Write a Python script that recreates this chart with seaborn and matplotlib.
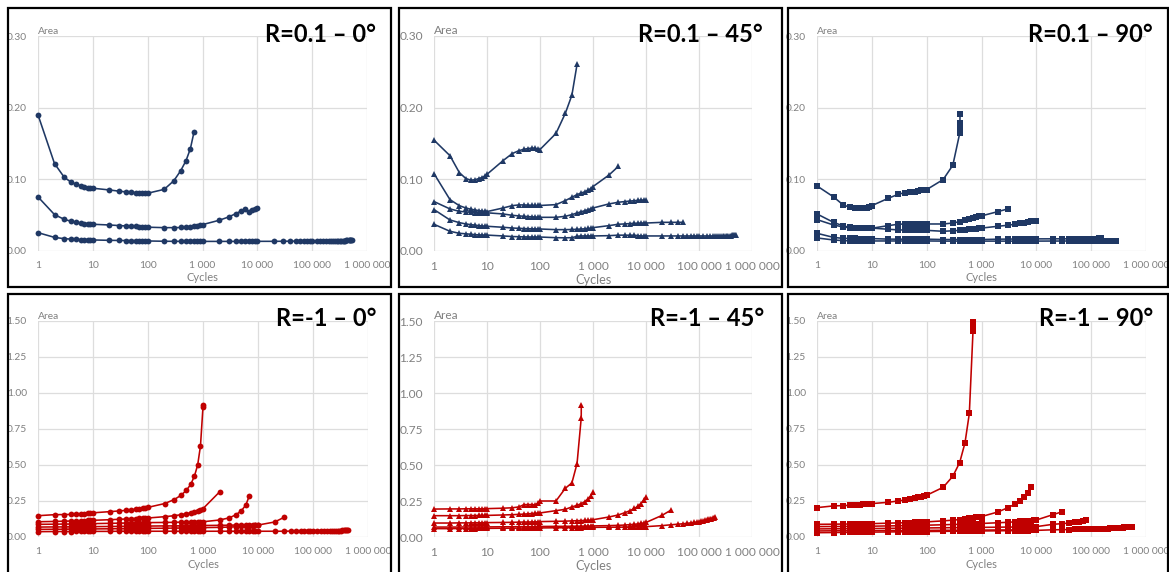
import matplotlib
matplotlib.use("Agg")
import matplotlib.pyplot as plt
import pandas as pd
import seaborn as sns
from matplotlib.patches import Rectangle
from matplotlib.ticker import NullLocator

sns.set_theme(style="white")
plt.rcParams["font.family"] = ["Lato", "DejaVu Sans"]

# ---------------- data ----------------
G1 = [1, 2, 3, 4, 5, 6, 7, 8, 9, 10]
G2 = [20, 30, 40, 50, 60, 70, 80, 90, 100]
G3 = [200, 300, 400, 500, 600, 700, 800, 900, 1000]
G4 = [2000, 3000, 4000, 5000, 6000, 7000, 8000, 9000, 10000]
G5 = [20000, 30000, 40000, 50000, 60000, 70000, 80000, 90000, 100000]
T1 = [120000, 140000, 160000, 180000, 200000, 220000, 240000, 260000, 280000, 300000,
      320000, 340000, 360000, 380000, 400000, 420000, 440000, 460000, 480000, 500000,
      520000, 540000, 560000]
T2 = [110000, 120000, 130000, 140000, 150000, 160000, 170000, 180000, 190000, 200000]

TITLES = ["R=0.1 \u2013 0°", "R=0.1 \u2013 45°", "R=0.1 \u2013 90°",
          "R=-1 \u2013 0°", "R=-1 \u2013 45°", "R=-1 \u2013 90°"]
X_TICKS = [1, 10, 100, 1000, 10000, 100000, 1000000]
X_LABELS = ["1", "10", "100", "1 000", "10 000", "100 000", "1 000 000"]
Y_TICKS_TOP = [0.0, 0.1, 0.2, 0.3]
Y_LABELS_TOP = ["0.00", "0.10", "0.20", "0.30"]
Y_TICKS_BOT = [0.0, 0.25, 0.5, 0.75, 1.0, 1.25, 1.5]
Y_LABELS_BOT = ["0.00", "0.25", "0.50", "0.75", "1.00", "1.25", "1.50"]

# R=0.1 - 0°
P1_CYC = [G1 + G2 + [200, 300, 400, 500, 600, 700],
          G1 + G2 + G3 + G4,
          G1 + G2 + G3 + G4 + G5 + T1[:22]]
P1_AREA = [
    [0.190, 0.122, 0.103, 0.096, 0.093, 0.091, 0.0895, 0.0885, 0.088, 0.0876,
     0.0852, 0.0835, 0.0825, 0.082, 0.0815, 0.081, 0.0806, 0.0805, 0.0806,
     0.086, 0.098, 0.112, 0.126, 0.1425, 0.166],
    [0.0755, 0.0508, 0.0442, 0.0415, 0.0400, 0.0390, 0.0383, 0.0378, 0.0375, 0.0373,
     0.0363, 0.0355, 0.0350, 0.0346, 0.0343, 0.0340, 0.0337, 0.0335, 0.0332,
     0.0326, 0.0326, 0.0328, 0.0333, 0.0340, 0.0348, 0.0355, 0.0362, 0.0368,
     0.0428, 0.0475, 0.0520, 0.0555, 0.0580, 0.0540, 0.0568, 0.0587, 0.0598],
    [0.0256, 0.0190, 0.0172, 0.0166, 0.0163, 0.0160, 0.0158, 0.0156, 0.0155, 0.0154,
     0.0149, 0.0147, 0.0146, 0.0145, 0.0144, 0.0143, 0.0142, 0.0141, 0.0140,
     0.0136, 0.0135, 0.0135, 0.0135, 0.0135, 0.0135, 0.0134, 0.0134, 0.0134,
     0.0134, 0.0134, 0.0134, 0.0134, 0.0134, 0.0135, 0.0135, 0.0135, 0.0135,
     0.0135, 0.0136, 0.0137, 0.0138, 0.0138, 0.0139, 0.0139, 0.0140, 0.0140,
     0.0140, 0.0141, 0.0141, 0.0142, 0.0142, 0.0143, 0.0143, 0.0143, 0.0144, 0.0144,
     0.0145, 0.0145, 0.0145, 0.0146, 0.0146, 0.0147, 0.0147, 0.0148, 0.0148, 0.0149,
     0.0150, 0.0152],
]

# R=0.1 - 45°
P2_CYC = [G1 + G2 + [200, 300, 400, 500],
          G1 + G2 + G3 + [2000, 3000],
          G1 + G2 + G3 + G4,
          G1 + G2 + G3 + G4 + [20000, 30000, 40000, 50000],
          G1 + G2 + G3 + G4 + G5 + T1[:20]]
P2_AREA = [
    [0.1547, 0.133, 0.1095, 0.101, 0.0988, 0.0995, 0.101, 0.1025, 0.1043, 0.107,
     0.126, 0.136, 0.140, 0.142, 0.143, 0.1435, 0.1435, 0.1425, 0.1416,
     0.164, 0.192, 0.2175, 0.2604],
    [0.108, 0.0717, 0.0633, 0.060, 0.0582, 0.0572, 0.0564, 0.0557, 0.0552, 0.055,
     0.060, 0.0633, 0.0643, 0.0643, 0.064, 0.0638, 0.0636, 0.0635, 0.0635,
     0.0647, 0.0703, 0.075, 0.0787, 0.081, 0.0825, 0.0845, 0.087, 0.0899,
     0.106, 0.118],
    [0.069, 0.0587, 0.0554, 0.0545, 0.054, 0.0537, 0.0535, 0.0533, 0.0533, 0.0533,
     0.0517, 0.0498, 0.049, 0.0484, 0.048, 0.0477, 0.0474, 0.0472, 0.047,
     0.047, 0.0484, 0.0508, 0.053, 0.0548, 0.0562, 0.0575, 0.0588, 0.060,
     0.0657, 0.068, 0.069, 0.0697, 0.0702, 0.0706, 0.0709, 0.0711, 0.0713],
    [0.0578, 0.0433, 0.0396, 0.0377, 0.0368, 0.036, 0.0355, 0.035, 0.0347, 0.0345,
     0.0331, 0.0321, 0.0316, 0.0313, 0.0311, 0.031, 0.0308, 0.0307, 0.0307,
     0.0298, 0.0298, 0.030, 0.0303, 0.0307, 0.031, 0.0314, 0.0318, 0.0326,
     0.0354, 0.0373, 0.0378, 0.0383, 0.0386, 0.0388, 0.0389, 0.039, 0.039,
     0.040, 0.040, 0.040, 0.040],
    [0.0373, 0.0275, 0.0247, 0.024, 0.0233, 0.0228, 0.0225, 0.0223, 0.0222, 0.0222,
     0.021, 0.0202, 0.0199, 0.0197, 0.0196, 0.0195, 0.0195, 0.0195, 0.0195,
     0.0186, 0.0184, 0.0186, 0.0205, 0.021, 0.021, 0.021, 0.021, 0.021,
     0.0214, 0.0221, 0.0221, 0.022, 0.022, 0.0215, 0.021, 0.021, 0.021,
     0.021, 0.021, 0.021, 0.021, 0.021, 0.021, 0.021, 0.021, 0.021,
     0.021, 0.021, 0.021, 0.021, 0.0211, 0.0211, 0.0211, 0.0212, 0.0212, 0.0213,
     0.0213, 0.0214, 0.0214, 0.0215, 0.0216, 0.0217, 0.0218, 0.0219, 0.022, 0.0222],
]

# R=0.1 - 90°
P3_CYC = [G1 + G2 + [200, 300, 400, 402, 404, 406],
          G1 + G2 + G3 + [2000, 3000],
          G1 + G2 + G3 + G4,
          G1 + G2 + G3 + G4 + G5 + [110000, 120000, 130000, 140000, 150000],
          G1 + G2 + G3 + G4 + G5 + T1[:9]]
P3_AREA = [
    [0.0908, 0.0755, 0.0643, 0.061, 0.060, 0.060, 0.060, 0.0605, 0.062, 0.0633,
     0.0736, 0.079, 0.0815, 0.0825, 0.083, 0.0838, 0.0845, 0.085, 0.0857,
     0.0997, 0.1197, 0.164, 0.170, 0.178, 0.1905],
    [0.0517, 0.040, 0.035, 0.033, 0.0318, 0.0317, 0.0317, 0.0317, 0.0317, 0.0318,
     0.0354, 0.0373, 0.0377, 0.0377, 0.0377, 0.0377, 0.0377, 0.0377, 0.0377,
     0.0377, 0.039, 0.041, 0.0428, 0.0445, 0.046, 0.0472, 0.0482, 0.049,
     0.055, 0.0587],
    [0.0438, 0.0363, 0.0335, 0.0325, 0.032, 0.032, 0.032, 0.032, 0.032, 0.032,
     0.0303, 0.0295, 0.0292, 0.029, 0.029, 0.029, 0.0288, 0.0288, 0.0288,
     0.0275, 0.0282, 0.0288, 0.0295, 0.0302, 0.0308, 0.0312, 0.0317, 0.032,
     0.0345, 0.0359, 0.0373, 0.0385, 0.0395, 0.0405, 0.0413, 0.0419, 0.0424],
    [0.0247, 0.019, 0.0176, 0.0175, 0.0175, 0.0174, 0.0174, 0.0173, 0.0173, 0.0173,
     0.0166, 0.0165, 0.0165, 0.0165, 0.0165, 0.0165, 0.0165, 0.0165, 0.0165,
     0.016, 0.016, 0.016, 0.016, 0.016, 0.016, 0.016, 0.016, 0.016,
     0.0165, 0.0166, 0.0167, 0.0167, 0.0168, 0.0168, 0.0168, 0.0169, 0.0169,
     0.017, 0.017, 0.017, 0.017, 0.0171, 0.0171, 0.0172, 0.0172, 0.0173,
     0.0173, 0.0174, 0.0174, 0.0175, 0.0176],
    [0.0182, 0.0154, 0.0145, 0.0142, 0.014, 0.014, 0.014, 0.014, 0.014, 0.014,
     0.014, 0.014, 0.014, 0.014, 0.014, 0.014, 0.014, 0.014, 0.014,
     0.0138, 0.0138, 0.0138, 0.0138, 0.0138, 0.0138, 0.0138, 0.0138, 0.0138,
     0.0138, 0.0138, 0.0138, 0.0138, 0.0138, 0.0138, 0.0138, 0.0138, 0.0138,
     0.0139, 0.0139, 0.014, 0.014, 0.014, 0.0141, 0.0141, 0.0141, 0.0142,
     0.0142, 0.0142, 0.0143, 0.0143, 0.0143, 0.0144, 0.0144, 0.0144, 0.0145],
]

# R=-1 - 0°
P4_CYC = [G1 + G2 + [200, 300, 400, 500, 600, 700, 800, 900, 1000, 1005],
          G1 + G2 + G3 + [2000],
          G1 + G2 + G3 + [2000, 3000, 4000, 5000, 6000, 7000],
          G1 + G2 + G3 + G4,
          G1 + G2 + G3 + G4 + [20000, 30000],
          G1 + G2 + G3 + G4 + G5 + T1[:17]]
P4_AREA = [
    [0.148, 0.155, 0.156, 0.157, 0.158, 0.16, 0.162, 0.164, 0.166, 0.168,
     0.176, 0.181, 0.185, 0.189, 0.193, 0.196, 0.2, 0.203, 0.206,
     0.232, 0.26, 0.29, 0.325, 0.366, 0.424, 0.50, 0.633, 0.905, 0.92],
    [0.106, 0.108, 0.11, 0.111, 0.112, 0.113, 0.114, 0.115, 0.115, 0.116,
     0.12, 0.123, 0.125, 0.127, 0.128, 0.129, 0.13, 0.131, 0.132,
     0.141, 0.148, 0.155, 0.162, 0.168, 0.175, 0.182, 0.19, 0.197,
     0.313],
    [0.088, 0.089, 0.09, 0.09, 0.091, 0.091, 0.092, 0.092, 0.093, 0.093,
     0.095, 0.096, 0.097, 0.098, 0.098, 0.099, 0.099, 0.1, 0.1,
     0.101, 0.102, 0.103, 0.104, 0.104, 0.105, 0.105, 0.106, 0.106,
     0.118, 0.133, 0.155, 0.183, 0.222, 0.288],
    [0.069, 0.07, 0.07, 0.071, 0.071, 0.071, 0.072, 0.072, 0.072, 0.072,
     0.073, 0.074, 0.074, 0.075, 0.075, 0.075, 0.075, 0.076, 0.076,
     0.077, 0.077, 0.078, 0.078, 0.078, 0.079, 0.079, 0.079, 0.08,
     0.081, 0.082, 0.083, 0.083, 0.084, 0.084, 0.085, 0.085, 0.086],
    [0.053, 0.054, 0.054, 0.055, 0.055, 0.055, 0.056, 0.056, 0.056, 0.056,
     0.057, 0.058, 0.058, 0.059, 0.059, 0.059, 0.06, 0.06, 0.06,
     0.061, 0.062, 0.062, 0.063, 0.063, 0.064, 0.064, 0.064, 0.065,
     0.067, 0.069, 0.071, 0.073, 0.075, 0.077, 0.079, 0.081, 0.083,
     0.104, 0.137],
    [0.037, 0.038, 0.038, 0.038, 0.039, 0.039, 0.039, 0.039, 0.039, 0.039,
     0.039, 0.04, 0.04, 0.04, 0.04, 0.04, 0.04, 0.04, 0.04,
     0.04, 0.04, 0.04, 0.04, 0.04, 0.04, 0.04, 0.04, 0.04,
     0.04, 0.04, 0.04, 0.04, 0.04, 0.04, 0.04, 0.04, 0.04,
     0.04, 0.04, 0.041, 0.041, 0.041, 0.041, 0.041, 0.042, 0.042,
     0.042, 0.042, 0.043, 0.043, 0.043, 0.044, 0.044, 0.044, 0.045, 0.045,
     0.045, 0.046, 0.046, 0.046, 0.047, 0.047, 0.048],
]

# R=-1 - 45°
P5_CYC = [G1 + G2 + [200, 300, 400, 500, 600, 601],
          G1 + G2 + G3,
          G1 + G2 + G3 + G4,
          G1 + G2 + G3 + G4 + [20000, 30000],
          G1 + G2 + G3 + G4 + G5 + T2]
P5_AREA = [
    [0.194, 0.195, 0.195, 0.196, 0.196, 0.196, 0.196, 0.196, 0.197, 0.197,
     0.2, 0.203, 0.209, 0.225, 0.225, 0.225, 0.224, 0.233, 0.25,
     0.25, 0.338, 0.376, 0.51, 0.828, 0.92],
    [0.148, 0.148, 0.148, 0.149, 0.149, 0.149, 0.15, 0.15, 0.15, 0.15,
     0.153, 0.155, 0.157, 0.159, 0.161, 0.163, 0.164, 0.166, 0.167,
     0.183, 0.192, 0.209, 0.22, 0.232, 0.245, 0.262, 0.285, 0.31],
    [0.097, 0.097, 0.098, 0.098, 0.098, 0.099, 0.099, 0.099, 0.1, 0.1,
     0.101, 0.102, 0.103, 0.104, 0.104, 0.105, 0.105, 0.106, 0.107,
     0.109, 0.11, 0.112, 0.113, 0.114, 0.115, 0.116, 0.117, 0.12,
     0.139, 0.153, 0.169, 0.183, 0.198, 0.213, 0.232, 0.255, 0.28],
    [0.069, 0.069, 0.069, 0.07, 0.07, 0.07, 0.07, 0.07, 0.07, 0.07,
     0.071, 0.071, 0.072, 0.072, 0.072, 0.072, 0.072, 0.073, 0.073,
     0.074, 0.074, 0.075, 0.075, 0.075, 0.076, 0.076, 0.076, 0.077,
     0.079, 0.081, 0.083, 0.086, 0.088, 0.091, 0.094, 0.097, 0.101,
     0.15, 0.188],
    [0.058, 0.058, 0.059, 0.059, 0.059, 0.059, 0.06, 0.06, 0.06, 0.06,
     0.061, 0.061, 0.062, 0.062, 0.062, 0.062, 0.063, 0.063, 0.063,
     0.064, 0.064, 0.065, 0.065, 0.065, 0.066, 0.066, 0.066, 0.067,
     0.068, 0.068, 0.069, 0.069, 0.07, 0.07, 0.071, 0.071, 0.072,
     0.079, 0.085, 0.089, 0.092, 0.095, 0.098, 0.101, 0.104, 0.107,
     0.11, 0.113, 0.116, 0.119, 0.122, 0.125, 0.128, 0.131, 0.134, 0.138],
]

# R=-1 - 90°
P6_CYC = [G1 + G2 + [200, 300, 400, 500, 600, 700, 701, 702],
          G1 + G2 + G3 + [2000, 3000, 4000, 5000, 6000, 7000, 8000],
          G1 + G2 + G3 + G4 + [20000, 30000],
          G1 + G2 + G3 + G4 + [20000, 30000, 40000, 50000, 60000, 70000, 80000],
          G1 + G2 + G3 + G4 + G5 + T1,
          G1 + G2 + G3 + G4]
P6_AREA = [
    [0.204, 0.216, 0.218, 0.22, 0.222, 0.224, 0.226, 0.228, 0.23, 0.232,
     0.241, 0.25, 0.257, 0.267, 0.272, 0.277, 0.281, 0.286, 0.29,
     0.345, 0.422, 0.517, 0.654, 0.858, 1.43, 1.45, 1.495],
    [0.088, 0.089, 0.09, 0.09, 0.091, 0.091, 0.092, 0.092, 0.093, 0.093,
     0.096, 0.098, 0.099, 0.1, 0.101, 0.102, 0.103, 0.104, 0.105,
     0.112, 0.117, 0.121, 0.125, 0.129, 0.132, 0.136, 0.139, 0.142,
     0.174, 0.203, 0.226, 0.248, 0.275, 0.305, 0.348],
    [0.072, 0.073, 0.073, 0.074, 0.074, 0.074, 0.075, 0.075, 0.075, 0.075,
     0.077, 0.078, 0.079, 0.079, 0.08, 0.08, 0.081, 0.081, 0.082,
     0.085, 0.087, 0.088, 0.089, 0.09, 0.091, 0.092, 0.093, 0.094,
     0.099, 0.102, 0.105, 0.108, 0.11, 0.112, 0.114, 0.116, 0.118,
     0.155, 0.176],
    [0.056, 0.057, 0.057, 0.058, 0.058, 0.058, 0.059, 0.059, 0.059, 0.059,
     0.06, 0.061, 0.061, 0.062, 0.062, 0.062, 0.063, 0.063, 0.063,
     0.064, 0.065, 0.065, 0.066, 0.066, 0.066, 0.067, 0.067, 0.067,
     0.068, 0.069, 0.069, 0.07, 0.07, 0.071, 0.071, 0.072, 0.072,
     0.088, 0.093, 0.097, 0.101, 0.106, 0.111, 0.117],
    [0.03, 0.031, 0.032, 0.032, 0.033, 0.033, 0.033, 0.034, 0.034, 0.034,
     0.035, 0.036, 0.036, 0.037, 0.037, 0.037, 0.038, 0.038, 0.038,
     0.039, 0.04, 0.04, 0.041, 0.041, 0.041, 0.041, 0.042, 0.042,
     0.043, 0.044, 0.044, 0.045, 0.045, 0.045, 0.046, 0.046, 0.046,
     0.05, 0.051, 0.052, 0.053, 0.054, 0.054, 0.055, 0.055, 0.056,
     0.056, 0.057, 0.058, 0.058, 0.059, 0.06, 0.06, 0.061, 0.062, 0.062,
     0.063, 0.064, 0.064, 0.065, 0.066, 0.066, 0.067, 0.068, 0.068, 0.069,
     0.07, 0.071, 0.072],
    [0.042, 0.043, 0.043, 0.043, 0.044, 0.044, 0.044, 0.044, 0.044, 0.044,
     0.045, 0.045, 0.045, 0.045, 0.046, 0.046, 0.046, 0.046, 0.046,
     0.047, 0.047, 0.047, 0.047, 0.048, 0.048, 0.048, 0.048, 0.048,
     0.049, 0.049, 0.049, 0.05, 0.05, 0.05, 0.05, 0.051, 0.051],
]

ALL_CYC = [P1_CYC, P2_CYC, P3_CYC, P4_CYC, P5_CYC, P6_CYC]
ALL_AREA = [P1_AREA, P2_AREA, P3_AREA, P4_AREA, P5_AREA, P6_AREA]

# ---------------- layout / style ----------------
NAVY = "#1F3864"
RED = "#C00000"
GRID = "#DDDDDD"
TXT = "#808080"
W, H = 1169, 572

fig = plt.figure(figsize=(W / 100, H / 100), dpi=100)
fig.patch.set_facecolor("white")


def px_rect(x0, y0, x1, y1):
    return [x0 / W, 1 - y1 / H, (x1 - x0) / W, (y1 - y0) / H]


# plot areas (pixel coords, y downward)
AX_BOX = [(38, 36, 367, 251), (434, 36, 752, 251), (817, 36, 1146, 251),
          (38, 321, 368, 537), (434, 321, 752, 537), (817, 321, 1146, 537)]
FRAME_BOX = [(8, 8, 391, 287), (399, 8, 782, 287), (788, 8, 1168, 287),
             (8, 294, 391, 590), (399, 294, 782, 590), (788, 294, 1168, 590)]
TITLE_POS = [(376, 34), (763, 34), (1153, 34), (376, 318), (764, 318), (1153, 318)]
MARKERS = ["o", "^", "s", "o", "^", "s"]
MSIZE = [4.2, 4.0, 4.3, 4.2, 3.8, 4.8]
FS = [7.4, 8.6, 7.4, 7.4, 8.6, 7.4]

for i in range(6):
    ax = fig.add_axes(px_rect(*AX_BOX[i]))
    ax.set_xscale("log")
    color = NAVY if i < 3 else RED
    rows = []
    for s, (cyc, area) in enumerate(zip(ALL_CYC[i], ALL_AREA[i])):
        n = min(len(cyc), len(area))
        rows += [(s, c, a) for c, a in zip(cyc[:n], area[:n])]
    df = pd.DataFrame(rows, columns=["series", "Cycles", "Area"])
    sns.lineplot(data=df, x="Cycles", y="Area", units="series", estimator=None,
                 sort=False, color=color, marker=MARKERS[i], markersize=MSIZE[i],
                 markeredgewidth=0, linewidth=1.15, legend=False, ax=ax)
    for ln in ax.lines:
        ln.set_clip_on(False)

    ax.set_xlim(1, 1e6)
    if i < 3:
        ax.set_ylim(0, 0.30)
        ax.set_yticks(Y_TICKS_TOP, Y_LABELS_TOP)
    else:
        ax.set_ylim(0, 1.5)
        ax.set_yticks(Y_TICKS_BOT, Y_LABELS_BOT)
    ax.set_xticks(X_TICKS, X_LABELS)
    ax.xaxis.set_minor_locator(NullLocator())
    for sp in ax.spines.values():
        sp.set_visible(False)
    ax.grid(True, which="major", color=GRID, linewidth=0.9)
    ax.set_axisbelow(True)
    ax.tick_params(axis="both", length=0, labelsize=FS[i], labelcolor=TXT)
    ax.tick_params(axis="y", pad=8)
    ax.tick_params(axis="x", pad=7)
    ax.set_xlabel("Cycles", fontsize=FS[i] + 0.6, color=TXT, labelpad=2)
    ax.set_ylabel("")
    ax.text(0.0, 1.0, "Area", transform=ax.transAxes, ha="left", va="bottom",
            fontsize=FS[i], color=TXT)
    ax.set_facecolor("white")

    fx0, fy0, fx1, fy1 = FRAME_BOX[i]
    fig.add_artist(Rectangle((fx0 / W, 1 - fy1 / H), (fx1 - fx0) / W, (fy1 - fy0) / H,
                             transform=fig.transFigure, fill=False,
                             edgecolor="black", linewidth=1.6))
    tx, ty = TITLE_POS[i]
    fig.text(tx / W, 1 - ty / H, TITLES[i], ha="right", va="center",
             fontsize=17, fontweight="bold", color="black")

fig.savefig("out.png", dpi=100, facecolor="white")
